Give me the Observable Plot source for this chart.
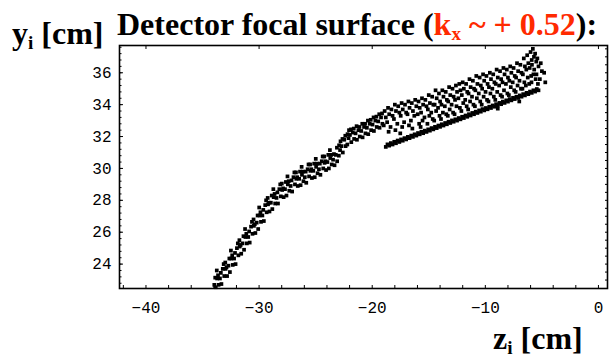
<!DOCTYPE html>
<html>
<head>
<meta charset="utf-8">
<script src="https://cdn.jsdelivr.net/npm/d3@7"></script>
<script src="https://cdn.jsdelivr.net/npm/@observablehq/plot@0.6"></script>
<style>
  html, body { margin: 0; padding: 0; background: #fff; }
  #wrap { position: relative; width: 610px; height: 358px; overflow: hidden; }
  #wrap svg { position: absolute; left: 0; top: 0; }
  .lbl { position: absolute; font-family: "Liberation Serif", "Times New Roman", serif; font-weight: bold; font-size: 32px; color: #000; white-space: nowrap; line-height: 1; }
  .lbl sub { font-size: 60%; vertical-align: baseline; position: relative; top: 0.28em; }
  .red { color: #ff2a00; }
</style>
</head>
<body>
<div id="wrap">
  <div class="lbl" id="ylab" style="left:12px; top:17px;">y<sub>i</sub> [cm]</div>
  <div class="lbl" id="title" style="left:117px; top:8px;">Detector focal surface (<span class="red">k<sub>x</sub> ~ + 0.52</span>):</div>
  <div class="lbl" id="xlab" style="left:493px; top:322px;">z<sub>i</sub> [cm]</div>
</div>
<script>
// Tick labels
const xTickLabels = [-40, -30, -20, -10, 0];
const yTickLabels = [24, 26, 28, 30, 32, 34, 36];

// Lower rising branch of the focal surface  [z, y]
const lowerBranch = [
  [-33.83,22.55],[-33.96,22.7],[-33.88,23.15],
  [-33.58,22.7],[-33.71,23.1],[-33.63,23.3],[-33.74,23.6],
  [-33.33,22.75],[-33.46,23.1],[-33.38,23.45],
  [-33.08,23.25],[-33.21,23.7],[-33.13,24.0],
  [-32.83,23.25],[-32.96,23.7],[-32.88,23.8],[-32.99,24.1],
  [-32.58,23.5],[-32.71,23.9],[-32.63,24.35],
  [-32.33,23.95],[-32.46,24.35],[-32.38,24.55],[-32.49,24.85],
  [-32.08,24.0],[-32.21,24.35],[-32.13,24.7],
  [-31.83,24.55],[-31.96,25.0],[-31.88,25.3],
  [-31.58,24.65],[-31.71,25.1],[-31.63,25.2],[-31.74,25.5],
  [-31.33,24.9],[-31.46,25.3],[-31.38,25.75],
  [-31.08,25.3],[-31.21,25.7],[-31.13,25.9],[-31.24,26.2],
  [-30.83,25.35],[-30.96,25.7],[-30.88,26.05],
  [-30.58,25.9],[-30.71,26.35],[-30.63,26.65],
  [-30.33,25.95],[-30.46,26.4],[-30.38,26.5],[-30.49,26.8],
  [-30.08,26.2],[-30.21,26.6],[-30.13,27.05],
  [-29.83,26.65],[-29.96,27.05],[-29.88,27.25],[-29.99,27.55],
  [-29.58,26.7],[-29.71,27.05],[-29.63,27.4],
  [-29.33,27.25],[-29.46,27.7],[-29.38,28.0],
  [-29.08,27.3],[-29.21,27.75],[-29.13,27.85],[-29.24,28.15],
  [-28.83,27.45],[-28.96,27.85],[-28.88,28.3],
  [-28.58,27.8],[-28.71,28.2],[-28.63,28.4],[-28.74,28.7],
  [-28.33,27.8],[-28.46,28.15],[-28.38,28.5],
  [-28.08,28.25],[-28.21,28.7],[-28.13,29.0],
  [-27.83,28.2],[-27.96,28.65],[-27.88,28.75],[-27.99,29.05],
  [-27.58,28.3],[-27.71,28.7],[-27.63,29.15],
  [-27.33,28.6],[-27.46,29.0],[-27.38,29.2],[-27.49,29.5],
  [-27.08,28.55],[-27.21,28.9],[-27.13,29.25],
  [-26.83,29.0],[-26.96,29.45],[-26.88,29.75],
  [-26.58,28.9],[-26.71,29.35],[-26.63,29.45],[-26.74,29.75],
  [-26.33,28.95],[-26.46,29.35],[-26.38,29.8],
  [-26.08,29.2],[-26.21,29.6],[-26.13,29.8],[-26.24,30.1],
  [-25.83,29.1],[-25.96,29.45],[-25.88,29.8],
  [-25.58,29.5],[-25.71,29.95],[-25.63,30.25],
  [-25.33,29.4],[-25.46,29.85],[-25.38,29.95],[-25.49,30.25],
  [-25.08,29.45],[-25.21,29.85],[-25.13,30.3],
  [-24.83,29.7],[-24.96,30.1],[-24.88,30.3],[-24.99,30.6],
  [-24.58,29.6],[-24.71,29.95],[-24.63,30.3],
  [-24.33,30.0],[-24.46,30.45],[-24.38,30.75],
  [-24.08,29.9],[-24.21,30.35],[-24.13,30.45],[-24.24,30.75],
  [-23.83,30.0],[-23.96,30.4],[-23.88,30.85],
  [-23.58,30.25],[-23.71,30.65],[-23.63,30.85],[-23.74,31.15],
  [-23.33,30.2],[-23.46,30.55],[-23.38,30.9]
];

// Steep kink section
const kinkBranch = [
  [-23.1,30.45],[-23.22,30.85],[-23.12,31.3],
  [-22.95,30.8],[-22.84,31.15],[-22.93,31.45],[-22.8,31.7],
  [-22.6,31.0],[-22.72,31.4],[-22.63,31.85],
  [-22.35,31.4],[-22.47,31.8],[-22.38,32.05],
  [-22.2,31.5],[-22.09,31.9],[-22.18,32.15],[-22.05,32.4],
  [-21.85,31.65],[-21.97,32.1],[-21.88,32.45],
  [-21.6,31.85],[-21.72,32.25],[-21.63,32.5],
  [-21.35,31.8],[-21.47,32.2],[-21.38,32.65],
  [-21.1,32.0],[-21.22,32.4],[-21.13,32.6],
  [-20.85,31.95],[-20.97,32.35],[-20.88,32.8],
  [-20.6,32.2],[-20.72,32.6],[-20.63,32.8],
  [-20.35,32.15],[-20.47,32.55],[-20.38,33.0],
  [-20.1,32.4],[-20.22,32.8],[-20.13,33.05],
  [-19.85,32.35],[-19.97,32.75],[-19.88,33.2],
  [-19.6,32.6],[-19.72,33.0],[-19.63,33.25],
  [-19.35,32.55],[-19.47,32.95],[-19.38,33.4],
  [-19.1,32.8],[-19.22,33.2],[-19.13,33.45]
];

// Upper scattered cloud
const upperCloud = [
  [-18.9,33.6],[-18.8,33.2],[-18.98,32.7],
  [-18.6,33.8],[-18.5,33.4],[-18.68,32.9],[-18.55,32.3],
  [-18.3,33.7],[-18.2,33.3],[-18.38,32.6],
  [-18.0,34.0],[-17.9,33.6],[-18.08,33.1],[-17.95,32.4],
  [-17.7,33.9],[-17.6,33.5],[-17.78,32.8],
  [-17.4,34.1],[-17.3,33.7],[-17.48,33.3],[-17.35,32.6],[-17.52,32.2],
  [-17.1,34.0],[-17.0,33.5],[-17.18,32.9],
  [-16.8,34.2],[-16.7,33.8],[-16.88,33.4],[-16.75,32.7],
  [-16.5,34.1],[-16.4,33.6],[-16.58,33.0],[-16.45,32.5],
  [-16.2,34.3],[-16.1,33.9],[-16.28,33.3],
  [-15.9,34.2],[-15.8,33.8],[-15.98,33.4],[-15.85,32.8],
  [-15.6,34.4],[-15.5,34.0],[-15.68,33.5],[-15.55,33.0],[-15.72,32.6],
  [-15.3,34.3],[-15.2,33.9],[-15.38,33.2],
  [-15.0,34.6],[-14.9,34.1],[-15.08,33.7],[-14.95,33.3],[-15.12,32.8],
  [-14.7,34.5],[-14.6,34.0],[-14.78,33.5],[-14.65,33.1],
  [-14.4,34.9],[-14.3,34.4],[-14.48,34.0],[-14.35,33.6],[-14.52,33.0],
  [-14.1,34.7],[-14.0,34.2],[-14.18,33.8],[-14.05,33.3],
  [-13.8,34.9],[-13.7,34.5],[-13.88,34.0],[-13.75,33.5],[-13.92,33.1],
  [-13.5,34.8],[-13.4,34.3],[-13.58,33.9],[-13.45,33.4],
  [-13.2,35.1],[-13.1,34.6],[-13.28,34.2],[-13.15,33.7],[-13.32,33.3],
  [-12.9,35.0],[-12.8,34.5],[-12.98,34.0],[-12.85,33.5],
  [-12.6,35.2],[-12.5,34.8],[-12.68,34.3],[-12.55,33.9],[-12.72,33.4],
  [-12.3,35.3],[-12.2,34.9],[-12.38,34.4],[-12.25,33.8],
  [-12.0,35.4],[-11.9,35.0],[-12.08,34.6],[-11.95,34.1],[-12.12,33.6],
  [-11.7,35.3],[-11.6,34.8],[-11.78,34.3],[-11.65,33.9],
  [-11.4,35.6],[-11.3,35.1],[-11.48,34.7],[-11.35,34.2],[-11.52,33.7],
  [-11.1,35.5],[-11.0,35.0],[-11.18,34.5],[-11.05,34.0],
  [-10.8,35.8],[-10.7,35.3],[-10.88,34.9],[-10.75,34.4],[-10.92,33.9],
  [-10.5,35.7],[-10.4,35.2],[-10.58,34.7],[-10.45,34.2],
  [-10.2,35.9],[-10.1,35.5],[-10.28,35.0],[-10.15,34.5],[-10.32,34.0],
  [-9.9,35.8],[-9.8,35.3],[-9.98,34.8],[-9.85,34.3],
  [-9.6,36.0],[-9.5,35.6],[-9.68,35.1],[-9.55,34.7],[-9.72,34.2],
  [-9.3,35.9],[-9.2,35.4],[-9.38,35.0],[-9.25,34.5],
  [-9.0,36.2],[-8.9,35.7],[-9.08,35.3],[-8.95,34.8],[-9.12,34.3],
  [-8.7,36.1],[-8.6,35.6],[-8.78,35.2],[-8.65,34.6],
  [-8.4,36.3],[-8.3,35.9],[-8.48,35.4],[-8.35,34.9],[-8.52,34.5],
  [-8.1,36.2],[-8.0,35.7],[-8.18,35.3],[-8.05,34.7],
  [-7.8,36.4],[-7.7,36.0],[-7.88,35.5],[-7.75,35.1],[-7.92,34.6],
  [-7.5,36.3],[-7.4,35.8],[-7.58,35.4],[-7.45,34.9],
  [-7.2,36.6],[-7.1,36.1],[-7.28,35.7],[-7.15,35.2],[-7.32,34.8],
  [-6.9,36.5],[-6.8,36.0],[-6.98,35.5],[-6.85,35.0],
  [-6.6,36.9],[-6.5,36.4],[-6.68,35.9],[-6.55,35.4],[-6.72,35.0],
  [-6.3,37.1],[-6.2,36.6],[-6.38,36.2],[-6.25,35.7],[-6.42,35.2],
  [-6.0,37.3],[-5.9,36.8],[-6.08,36.3],[-5.95,35.8],[-6.12,35.3],
  [-5.8,37.5],[-5.7,37.0],[-5.88,36.5],[-5.75,35.9],[-5.92,35.4],
  [-5.6,37.2],[-5.5,36.7],[-5.68,36.2],[-5.55,35.6],
  [-5.4,36.9],[-5.3,36.4],[-5.48,35.9],[-5.35,35.3],
  [-5.1,36.6],[-5.0,36.1],[-5.18,35.6],
  [-4.8,36.0],[-4.7,35.4],
  [-8.9,33.75],[-7.0,34.2]
];

// Dense lower straight line
const lowerLine = [
  [-18.8,31.35],[-18.5,31.43],[-18.2,31.50],[-17.9,31.58],[-17.6,31.66],[-17.3,31.74],[-17.0,31.82],
  [-16.7,31.90],[-16.4,31.98],[-16.1,32.06],[-15.8,32.14],[-15.5,32.21],[-15.2,32.29],[-14.9,32.37],
  [-14.6,32.45],[-14.3,32.53],[-14.0,32.61],[-13.7,32.69],[-13.4,32.77],[-13.1,32.85],[-12.8,32.93],
  [-12.5,33.00],[-12.2,33.08],[-11.9,33.16],[-11.6,33.24],[-11.3,33.32],[-11.0,33.40],[-10.7,33.48],
  [-10.4,33.56],[-10.1,33.64],[-9.8,33.71],[-9.5,33.79],[-9.2,33.87],[-8.9,33.95],[-8.6,34.03],
  [-8.3,34.11],[-8.0,34.19],[-7.7,34.27],[-7.4,34.35],[-7.1,34.42],[-6.8,34.50],[-6.5,34.58],
  [-6.2,34.66],[-5.9,34.74],[-5.6,34.82],[-5.3,34.90],
  [-18.65,31.51],[-18.35,31.59],[-18.05,31.67],[-17.75,31.75],[-17.45,31.82],[-17.15,31.90],
  [-16.85,31.98],[-16.55,32.06],[-16.25,32.14],[-15.95,32.22],[-15.65,32.30],[-15.35,32.37],
  [-15.05,32.45],[-14.75,32.53],[-14.45,32.61],[-14.15,32.69],[-13.85,32.77],[-13.55,32.85],
  [-13.25,32.93],[-12.95,33.01],[-12.65,33.08],[-12.35,33.16],[-12.05,33.24],[-11.75,33.32],
  [-11.45,33.40],[-11.15,33.48],[-10.85,33.56],[-10.55,33.64],[-10.25,33.72],[-9.95,33.79],
  [-9.65,33.87],[-9.35,33.95],[-9.05,34.03],[-8.75,34.11],[-8.45,34.19],[-8.15,34.27],
  [-7.85,34.35],[-7.55,34.43],[-7.25,34.50],[-6.95,34.58],[-6.65,34.66],[-6.35,34.74],
  [-6.05,34.82],[-5.75,34.90],[-5.45,34.98]
];

const points = [...lowerBranch, ...kinkBranch, ...upperCloud, ...lowerLine].map(([z, y]) => ({z, y}));

const xMinor = d3.range(-42, 0.5, 2);
const yMinor = d3.range(22.8, 37.7, 0.4).map(v => +v.toFixed(1));
const yRight = d3.range(23, 37.6, 0.5);

const fmt = d => (d < 0 ? "\u2212" : "") + Math.abs(d);

const chart = Plot.plot({
  width: 610,
  height: 358,
  marginTop: 45,
  marginBottom: 70,
  marginLeft: 119,
  marginRight: 3,
  x: {domain: [-42.34, 0.8], label: null},
  y: {domain: [22.47, 37.71], label: null},
  style: {fontFamily: "'Liberation Mono', 'Courier New', monospace", fontSize: "16px", color: "#000", background: "transparent"},
  marks: [
    Plot.dot(points, {x: "z", y: "y", symbol: "square", r: 2.1, fill: "#000", stroke: "none"}),
    Plot.axisX({anchor: "bottom", ticks: xMinor, tickSize: -3, tickFormat: () => "", label: null}),
    Plot.axisX({anchor: "bottom", ticks: xTickLabels, tickSize: 0, tickPadding: 13, tickFormat: fmt, label: null}),
    Plot.axisX({anchor: "top", ticks: xTickLabels, tickSize: -3, tickFormat: () => "", label: null}),
    Plot.axisY({anchor: "left", ticks: yMinor, tickSize: -2.5, tickFormat: () => "", label: null}),
    Plot.axisY({anchor: "left", ticks: yTickLabels, tickSize: -4, tickFormat: () => "", label: null}),
    Plot.axisY({anchor: "left", ticks: yTickLabels, tickSize: 0, tickPadding: 8, tickFormat: fmt, label: null}),
    Plot.axisY({anchor: "right", ticks: yRight, tickSize: -3, tickFormat: () => "", label: null}),
    Plot.frame({stroke: "#000", strokeWidth: 1.6})
  ]
});
document.getElementById("wrap").prepend(chart);
</script>
</body>
</html>
